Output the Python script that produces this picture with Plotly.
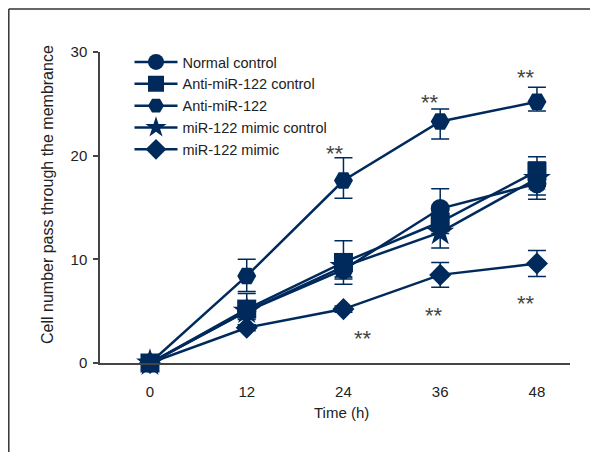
import plotly.graph_objects as go

time_h = [0, 12, 24, 36, 48]

normal_control = [0, 5.0, 9.0, 14.9, 17.3]
normal_err = [0, 0.8, 0.9, 1.9, 1.5]

anti_control = [0, 5.2, 9.7, 13.6, 18.5]
anti_control_err = [0, 1.5, 2.1, 1.1, 1.4]

anti_mir = [0, 8.4, 17.6, 23.3, 25.2]
anti_mir_err_up = [0, 1.6, 2.2, 1.2, 1.4]
anti_mir_err_down = [0, 1.5, 1.7, 1.7, 0.9]

mimic_control = [0, 5.0, 9.3, 12.6, 17.8]
mimic_control_err = [0, 0.5, 1.0, 1.5, 1.6]

mimic = [0, 3.4, 5.2, 8.5, 9.6]
mimic_err = [0, 0.3, 0.3, 1.2, 1.25]

sig_x = [22.9, 34.7, 46.6, 26.4, 35.2, 46.6]
sig_y = [20.7, 25.6, 28.0, 2.8, 5.1, 6.25]
sig_text = ["**"] * 6

NAVY = "#002a5c"
FONT = "Liberation Sans, Arial, sans-serif"

series = [
    ("Normal control", normal_control, normal_err, normal_err, "circle", 19),
    ("Anti-miR-122 control", anti_control, anti_control_err, anti_control_err, "square", 19),
    ("Anti-miR-122", anti_mir, anti_mir_err_up, anti_mir_err_down, "hexagon2", 19),
    ("miR-122 mimic control", mimic_control, mimic_control_err, mimic_control_err, "star", 21),
    ("miR-122 mimic", mimic, mimic_err, mimic_err, "diamond", 17),
]

# page body has an 8px margin: the figure is shifted by 8px, so size/margins compensate
PW, PH = 470, 311          # plot area in pixels
X0, Y0 = 100, 363          # plot-area left / bottom in the window


def px_x(sx):
    return (sx - X0) / PW


def px_y(sy):
    return (Y0 - sy) / PH


fig = go.Figure()
for name, vals, eu, ed, sym, sz in series:
    fig.add_trace(go.Scatter(
        x=time_h, y=vals, name=name, mode="lines+markers",
        line=dict(color=NAVY, width=2.5),
        marker=dict(symbol=sym, size=sz, color=NAVY),
        error_y=dict(type="data", array=eu, arrayminus=ed, visible=True,
                     color=NAVY, thickness=1.5, width=9),
        cliponaxis=False,
    ))

for xx, yy, tt in zip(sig_x, sig_y, sig_text):
    fig.add_annotation(x=xx, y=yy, text=tt, showarrow=False, yshift=-5,
                       font=dict(family=FONT, size=22, color="#444444"))

# axis titles
fig.add_annotation(xref="paper", yref="paper", x=px_x(341), y=px_y(412),
                   text="Time (h)", showarrow=False, xanchor="center", yanchor="middle",
                   font=dict(family=FONT, size=15, color="#222222"))
fig.add_annotation(xref="paper", yref="paper", x=px_x(47), y=px_y(195),
                   text="Cell number pass through the membrance", showarrow=False,
                   textangle=-90, xanchor="center", yanchor="middle",
                   font=dict(family=FONT, size=16, color="#222222"))

# outer frame (top and left edges visible)
fig.add_shape(type="line", xref="paper", yref="paper",
              x0=px_x(8.8), x1=px_x(620), y0=px_y(9), y1=px_y(9),
              line=dict(color="#333333", width=1.5))
fig.add_shape(type="line", xref="paper", yref="paper",
              x0=px_x(8.8), x1=px_x(8.8), y0=px_y(9), y1=px_y(470),
              line=dict(color="#333333", width=1.5))

fig.update_layout(
    width=590, height=444,
    margin=dict(l=92, r=28, t=44, b=89, pad=0, autoexpand=False),
    paper_bgcolor="white", plot_bgcolor="white",
    font=dict(family=FONT, size=15, color="#222222"),
    showlegend=True,
    legend=dict(x=px_x(129.5), y=px_y(46), xanchor="left", yanchor="top",
                bgcolor="rgba(0,0,0,0)", tracegroupgap=0, itemwidth=43,
                font=dict(family=FONT, size=14.5, color="#222222"),
                itemsizing="trace"),
    xaxis=dict(range=[-6.2, 52.1], tickvals=time_h, showgrid=False, zeroline=False,
               showline=True, linecolor="#444444", linewidth=1.5, ticks="",
               automargin=False, ticklabelstandoff=14,
               tickfont=dict(family=FONT, size=15, color="#222222")),
    yaxis=dict(range=[0, 30], tickvals=[0, 10, 20, 30], showgrid=False, zeroline=False,
               showline=True, linecolor="#444444", linewidth=1.5,
               ticks="outside", ticklen=5, tickcolor="#444444", tickwidth=1.5,
               automargin=False, ticklabelstandoff=3,
               tickfont=dict(family=FONT, size=15, color="#222222")),
)

fig.write_html("out.html")
